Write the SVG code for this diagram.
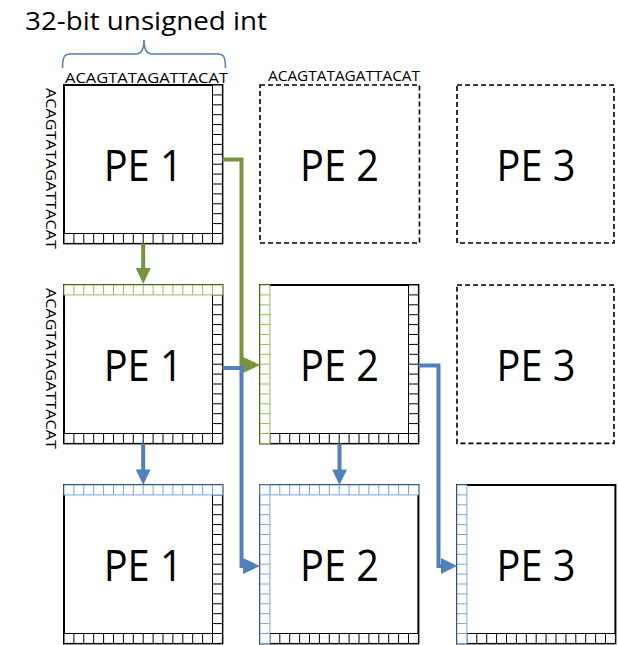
<svg xmlns="http://www.w3.org/2000/svg" width="618" height="645" viewBox="0 0 618 645">
  <style>
    .box{fill:#fff;stroke:#000;stroke-width:2}
    .ghost{fill:none;stroke:#000;stroke-width:1.6;stroke-dasharray:5 3}
    .k{fill:#fff;stroke:#000;stroke-width:1}
    .g{fill:#fff;stroke:#9BBB59;stroke-width:1}
    .b{fill:#fff;stroke:#7AA5DC;stroke-width:1}
    .pe{font-family:"Open Sans","Noto Sans","Liberation Sans",sans-serif;font-size:43px;text-anchor:middle;fill:#000}
    .seq{font-family:"Open Sans","Noto Sans","Liberation Sans",sans-serif;font-size:15px;fill:#000}
    .title{font-family:"Open Sans","Noto Sans","Liberation Sans",sans-serif;font-size:26px;fill:#000}
    .wire{fill:none;stroke-width:4;stroke-linejoin:miter}
    .gw{stroke:#77933C}
    .gf{fill:#77933C}
    .bw{stroke:#4F81BD}
    .bf{fill:#4F81BD}
    .brace{fill:none;stroke:#4F81BD;stroke-width:1.6}
  </style>
  <defs>
    <!-- 16-cell register strips -->
    <g id="hrow">
      <rect x="0" y="0" width="158.4" height="9.9"/>
      <path d="M9.9 0V9.9M19.8 0V9.9M29.7 0V9.9M39.6 0V9.9M49.5 0V9.9M59.4 0V9.9M69.3 0V9.9M79.2 0V9.9M89.1 0V9.9M99 0V9.9M108.9 0V9.9M118.8 0V9.9M128.7 0V9.9M138.6 0V9.9M148.5 0V9.9"/>
    </g>
    <g id="vcol">
      <rect x="0" y="0" width="9.9" height="158.4"/>
      <path d="M0 9.9H9.9M0 19.8H9.9M0 29.7H9.9M0 39.6H9.9M0 49.5H9.9M0 59.4H9.9M0 69.3H9.9M0 79.2H9.9M0 89.1H9.9M0 99H9.9M0 108.9H9.9M0 118.8H9.9M0 128.7H9.9M0 138.6H9.9M0 148.5H9.9"/>
    </g>
  </defs>

  <!-- word-size annotation -->
  <g id="word-size">
    <text class="title" x="25" y="30" textLength="242" lengthAdjust="spacingAndGlyphs">32-bit unsigned int</text>
    <path class="brace" d="M62.5 68C62.5 58 64 54 70 54L136 54C141 54 144 50 144 40C144 50 147 54 152 54L218 54C224 54 225.5 58 225.5 68"/>
  </g>

  <!-- row 1 -->
  <g id="pe1-r1">
    <rect class="box" x="64" y="85" width="158.4" height="158.4"/>
    <use href="#vcol" class="k" x="212.5" y="85"/>
    <use href="#hrow" class="k" x="64" y="233.5"/>
    <text class="pe" x="143.2" y="180.5" textLength="79" lengthAdjust="spacingAndGlyphs">PE 1</text>
    <text class="seq" x="65" y="83" textLength="163" lengthAdjust="spacingAndGlyphs">ACAGTATAGATTACAT</text>
    <text class="seq" transform="translate(45.5 88) rotate(90)" textLength="161" lengthAdjust="spacingAndGlyphs">ACAGTATAGATTACAT</text>
  </g>
  <g id="pe2-r1">
    <rect class="ghost" x="260" y="85" width="159.5" height="158"/>
    <text class="pe" x="339.5" y="180.5" textLength="79" lengthAdjust="spacingAndGlyphs">PE 2</text>
    <text class="seq" x="268" y="81" textLength="152" lengthAdjust="spacingAndGlyphs">ACAGTATAGATTACAT</text>
  </g>
  <g id="pe3-r1">
    <rect class="ghost" x="457" y="85" width="157" height="158"/>
    <text class="pe" x="536" y="180.5" textLength="79" lengthAdjust="spacingAndGlyphs">PE 3</text>
  </g>

  <!-- row 2 -->
  <g id="pe1-r2">
    <rect class="box" x="64" y="285" width="158.4" height="158.4"/>
    <use href="#vcol" class="k" x="212.5" y="285"/>
    <use href="#hrow" class="k" x="64" y="433.5"/>
    <use href="#hrow" class="g" x="64" y="285"/>
    <text class="pe" x="143.2" y="380.5" textLength="79" lengthAdjust="spacingAndGlyphs">PE 1</text>
    <text class="seq" transform="translate(45.5 288) rotate(90)" textLength="161" lengthAdjust="spacingAndGlyphs">ACAGTATAGATTACAT</text>
  </g>
  <g id="pe2-r2">
    <rect class="box" x="260" y="285" width="158.4" height="158.4"/>
    <use href="#vcol" class="k" x="408.5" y="285"/>
    <use href="#hrow" class="k" x="260" y="433.5"/>
    <use href="#vcol" class="g" x="260" y="285"/>
    <text class="pe" x="339.5" y="380.5" textLength="79" lengthAdjust="spacingAndGlyphs">PE 2</text>
  </g>
  <g id="pe3-r2">
    <rect class="ghost" x="457" y="285" width="157" height="158.4"/>
    <text class="pe" x="536" y="380.5" textLength="79" lengthAdjust="spacingAndGlyphs">PE 3</text>
  </g>

  <!-- row 3 -->
  <g id="pe1-r3">
    <rect class="box" x="64" y="485" width="158.4" height="158.4"/>
    <use href="#vcol" class="k" x="212.5" y="485"/>
    <use href="#hrow" class="k" x="64" y="633.5"/>
    <use href="#hrow" class="b" x="64" y="485"/>
    <text class="pe" x="143.2" y="580.5" textLength="79" lengthAdjust="spacingAndGlyphs">PE 1</text>
  </g>
  <g id="pe2-r3">
    <rect class="box" x="260" y="485" width="158.4" height="158.4"/>
    <use href="#hrow" class="k" x="260" y="633.5"/>
    <use href="#hrow" class="b" x="260" y="485"/>
    <use href="#vcol" class="b" x="260" y="485"/>
    <text class="pe" x="339.5" y="580.5" textLength="79" lengthAdjust="spacingAndGlyphs">PE 2</text>
  </g>
  <g id="pe3-r3">
    <rect class="box" x="457" y="485" width="158.4" height="158.4"/>
    <use href="#hrow" class="k" x="457" y="633.5"/>
    <use href="#vcol" class="b" x="457" y="485"/>
    <text class="pe" x="536" y="580.5" textLength="79" lengthAdjust="spacingAndGlyphs">PE 3</text>
  </g>

  <!-- data-flow connectors -->
  <g id="connectors">
    <path class="wire gw" d="M222.4 159.5H241.5V365H245"/>
    <polygon class="gf" points="243,357 243,373 260,365"/>
    <path class="wire gw" d="M143.2 243.4V269"/>
    <polygon class="gf" points="135.7,268 150.7,268 143.2,284"/>

    <path class="wire bw" d="M222.4 368H241.5V566H245"/>
    <polygon class="bf" points="243,558 243,574 260,566"/>
    <path class="wire bw" d="M143.2 443.4V470.5"/>
    <polygon class="bf" points="135.7,469.5 150.7,469.5 143.2,485"/>

    <path class="wire bw" d="M418.4 365.5H438.5V566H443"/>
    <polygon class="bf" points="441,558 441,574 457,566"/>
    <path class="wire bw" d="M339.5 443.4V470.5"/>
    <polygon class="bf" points="332,469.5 347,469.5 339.5,485"/>
  </g>
</svg>
